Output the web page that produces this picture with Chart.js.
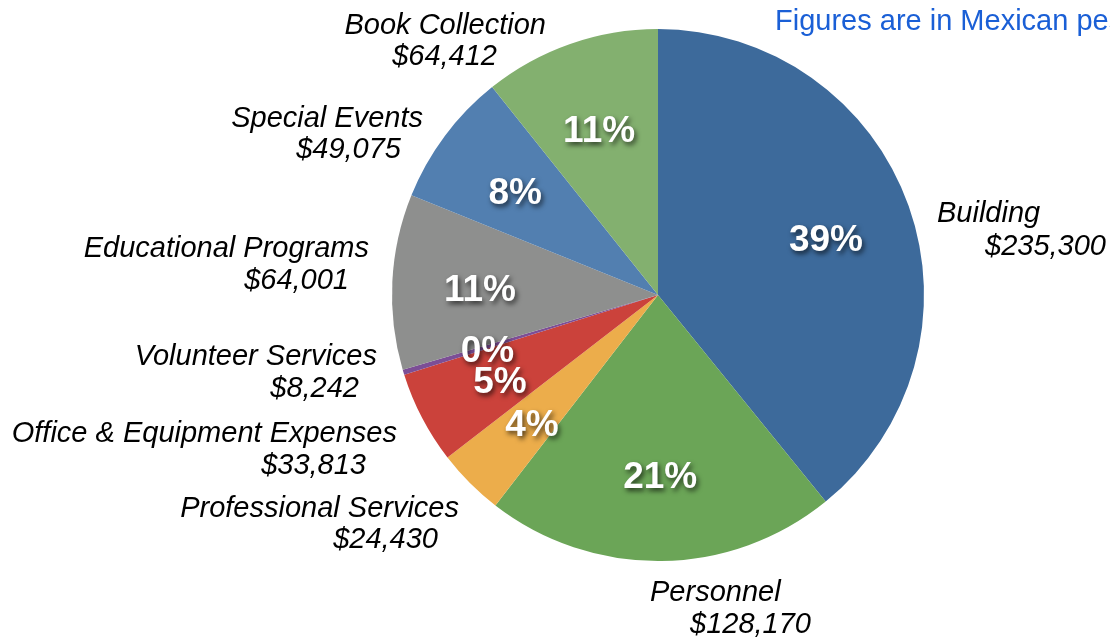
<!DOCTYPE html>
<html>
<head>
<meta charset="utf-8">
<script src="https://cdn.jsdelivr.net/npm/chart.js@4"></script>
<style>
  html, body { margin: 0; padding: 0; background: #ffffff; }
  #wrap { width: 1110px; height: 639px; position: relative; }
</style>
</head>
<body>
<div id="wrap"><canvas id="budgetPie" width="1110" height="639"></canvas></div>
<script>
// Budget categories, clockwise from 12 o'clock
const categories = ['Building', 'Personnel', 'Professional Services', 'Office & Equipment Expenses',
    'Volunteer Services', 'Educational Programs', 'Special Events', 'Book Collection'];
// Amounts as printed next to each slice
const amountLabels = ['$235,300', '$128,170', '$24,430', '$33,813', '$8,242', '$64,001', '$49,075', '$64,412'];
// Slice sizes as drawn (the volunteer slice is only a sliver in the picture)
const sliceValues = [235300, 128170, 24430, 33813, 1900, 64001, 49075, 64412];
// Percent text as printed inside the slices
const percentLabels = ['39%', '21%', '4%', '5%', '0%', '11%', '8%', '11%'];
const sliceColors = ['#3d6a9b', '#6ba557', '#ecad4b', '#cb423b', '#7c4e96', '#8e8f8e', '#527fb0', '#83b06f'];

const titleText = 'Figures are in Mexican pesos';

// where each outer label sits, relative to the pie centre: [align, x1, y1, x2, y2]
const labelSpots = [
    ['left', 279, -73, 327, -40],
    ['left', -8, 306, 32, 338],
    ['right', -199, 222, -220, 253],
    ['right', -261, 147, -292, 179],
    ['right', -281, 70, -299, 102],
    ['right', -289, -38, -309, -6],
    ['right', -235, -168, -257, -137],
    ['right', -112, -261, -161, -230]
];

const pieText = {
    id: 'pieText',
    afterDatasetsDraw(chart) {
        const ctx = chart.ctx;
        const arcs = chart.getDatasetMeta(0).data;
        const cx = arcs[0].x, cy = arcs[0].y, r = arcs[0].outerRadius;

        // percentages inside the slices
        ctx.save();
        ctx.font = 'bold 37px "Liberation Sans", Arial, sans-serif';
        ctx.textAlign = 'center';
        ctx.textBaseline = 'middle';
        ctx.fillStyle = '#ffffff';
        ctx.shadowColor = 'rgba(0, 0, 0, 0.65)';
        ctx.shadowBlur = 5;
        ctx.shadowOffsetX = 2;
        ctx.shadowOffsetY = 3;
        arcs.forEach((arc, i) => {
            const mid = (arc.startAngle + arc.endAngle) / 2;
            const x = cx + Math.cos(mid) * r * 0.67;
            const y = cy + Math.sin(mid) * r * 0.67;
            ctx.fillText(percentLabels[i], x, y + 5);
        });
        ctx.restore();

        // category names and amounts around the pie
        ctx.save();
        ctx.font = 'italic 29px "Liberation Sans", Arial, sans-serif';
        ctx.fillStyle = '#000000';
        ctx.textBaseline = 'alphabetic';
        labelSpots.forEach((spot, i) => {
            ctx.textAlign = spot[0];
            ctx.fillText(categories[i], cx + spot[1], cy + spot[2]);
            ctx.fillText(amountLabels[i], cx + spot[3], cy + spot[4]);
        });
        ctx.restore();

        // note in the top right corner, runs off the edge like the original
        ctx.save();
        ctx.font = '29px "Liberation Sans", Arial, sans-serif';
        ctx.fillStyle = '#1a5fd6';
        ctx.textAlign = 'left';
        ctx.textBaseline = 'alphabetic';
        ctx.fillText(titleText, 775, 30);
        ctx.restore();
    }
};

document.addEventListener('DOMContentLoaded', () => {
    const ctx = document.getElementById('budgetPie').getContext('2d');
    new Chart(ctx, {
        type: 'pie',
        data: {
            labels: categories,
            datasets: [{
                data: sliceValues,
                backgroundColor: sliceColors,
                borderWidth: 0
            }]
        },
        options: {
            responsive: false,
            animation: false,
            layout: {
                padding: { top: 29, bottom: 78, left: 392, right: 186 }
            },
            plugins: {
                legend: { display: false },
                tooltip: { enabled: false },
                title: { display: false }
            }
        },
        plugins: [pieText]
    });
});
</script>
</body>
</html>
